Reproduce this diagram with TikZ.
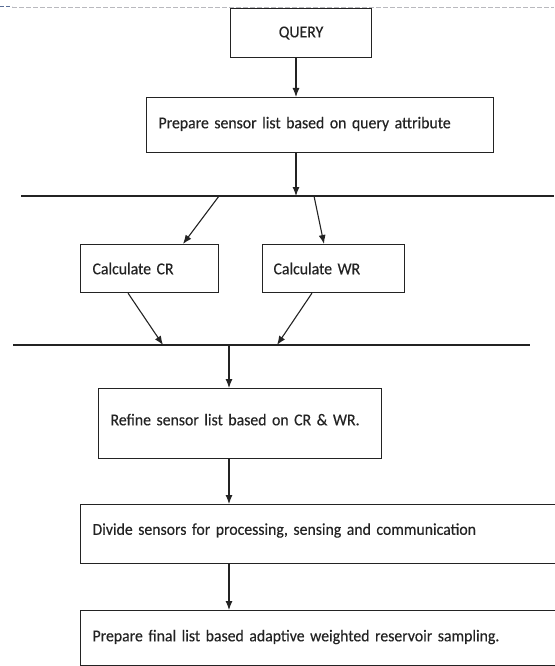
\documentclass[tikz,border=0pt]{standalone}
\usepackage{fontspec}
\setmainfont{Carlito}[FakeStretch=0.95, WordSpace=0.6, FakeBold=0.3]
\usetikzlibrary{arrows.meta,calc}

\definecolor{ink}{RGB}{35,35,35}
\definecolor{framegray}{RGB}{185,185,190}
\definecolor{frameblue}{RGB}{90,110,150}

\tikzset{
  box/.style={draw=ink, line width=1.1pt, anchor=north west, align=left,
    inner xsep=12pt, inner ysep=0pt, text=ink,
    font=\fontsize{16.6}{19}\selectfont},
  flow/.style={draw=ink, line width=1.1pt,
    arrows={-Latex[length=9pt,width=7pt]}},
  bus/.style={draw=ink, line width=1.1pt},
}

\begin{document}
\begin{tikzpicture}[x=1pt,y=-1pt]
  \useasboundingbox (0,0) rectangle (554,666);

  % page frame rule along the top edge
  \draw[frameblue, line width=1pt, dash pattern=on 4pt off 2pt] (0,7) -- (12,7);
  \draw[framegray, line width=0.8pt, dash pattern=on 5pt off 2pt] (12,7) -- (554,7);

  % process boxes
  \node[box, align=center, inner xsep=0pt, minimum width=141pt, minimum height=49pt,
        text width=141pt] (query) at (230,8) {QUERY};
  \node[box, minimum width=347pt, minimum height=55pt, text width=323pt]
        (prep) at (146,97) {\raisebox{5pt}{Prepare sensor list based on query attribute}};
  \node[box, minimum width=138pt, minimum height=48pt, text width=114pt]
        (cr) at (80,244) {\raisebox{-4pt}{Calculate CR}};
  \node[box, inner xsep=11pt, minimum width=142pt, minimum height=48pt, text width=120pt]
        (wr) at (262,244) {\raisebox{-4pt}{Calculate WR}};
  \node[box, minimum width=283pt, minimum height=70pt, text width=259pt]
        (refine) at (98,388) {\raisebox{8pt}{Refine sensor list based on CR \& WR.}};
  \node[box, minimum width=520pt, minimum height=59pt, text width=496pt]
        (divide) at (80,504) {\raisebox{10pt}{Divide sensors for processing, sensing and communication}};
  \node[box, minimum width=520pt, minimum height=55pt, text width=496pt]
        (final) at (80,610) {\raisebox{5pt}{Prepare final list based adaptive weighted reservoir sampling.}};

  % fork and join rules
  \coordinate (fork west) at (21,196);
  \coordinate (fork east) at (554,196);
  \coordinate (join west) at (13,345);
  \coordinate (join east) at (530,345);
  \draw[bus] (fork west) -- (fork east);
  \draw[bus] (join west) -- (join east);

  % points where the arrows meet the rules
  \coordinate (topx) at (296,0);
  \coordinate (fork cr) at (219,196);
  \coordinate (fork wr) at (314,196);
  \coordinate (join cr) at (163,345);
  \coordinate (join wr) at (277,345);
  \coordinate (join out) at (229,345);

  % connectors
  \draw[flow] (query.south -| topx) -- (prep.north -| topx);
  \draw[flow] (prep.south -| topx) -- (fork west -| topx);
  \draw[flow] (fork cr) -- ([xshift=103pt]cr.north west);
  \draw[flow] (fork wr) -- ([xshift=62pt]wr.north west);
  \draw[flow] ([xshift=48pt]cr.south west) -- (join cr);
  \draw[flow] ([xshift=50pt]wr.south west) -- (join wr);
  \draw[flow] (join out) -- (refine.north -| join out);
  \draw[flow] (refine.south -| join out) -- (divide.north -| join out);
  \draw[flow] (divide.south -| join out) -- (final.north -| join out);
\end{tikzpicture}
\end{document}
